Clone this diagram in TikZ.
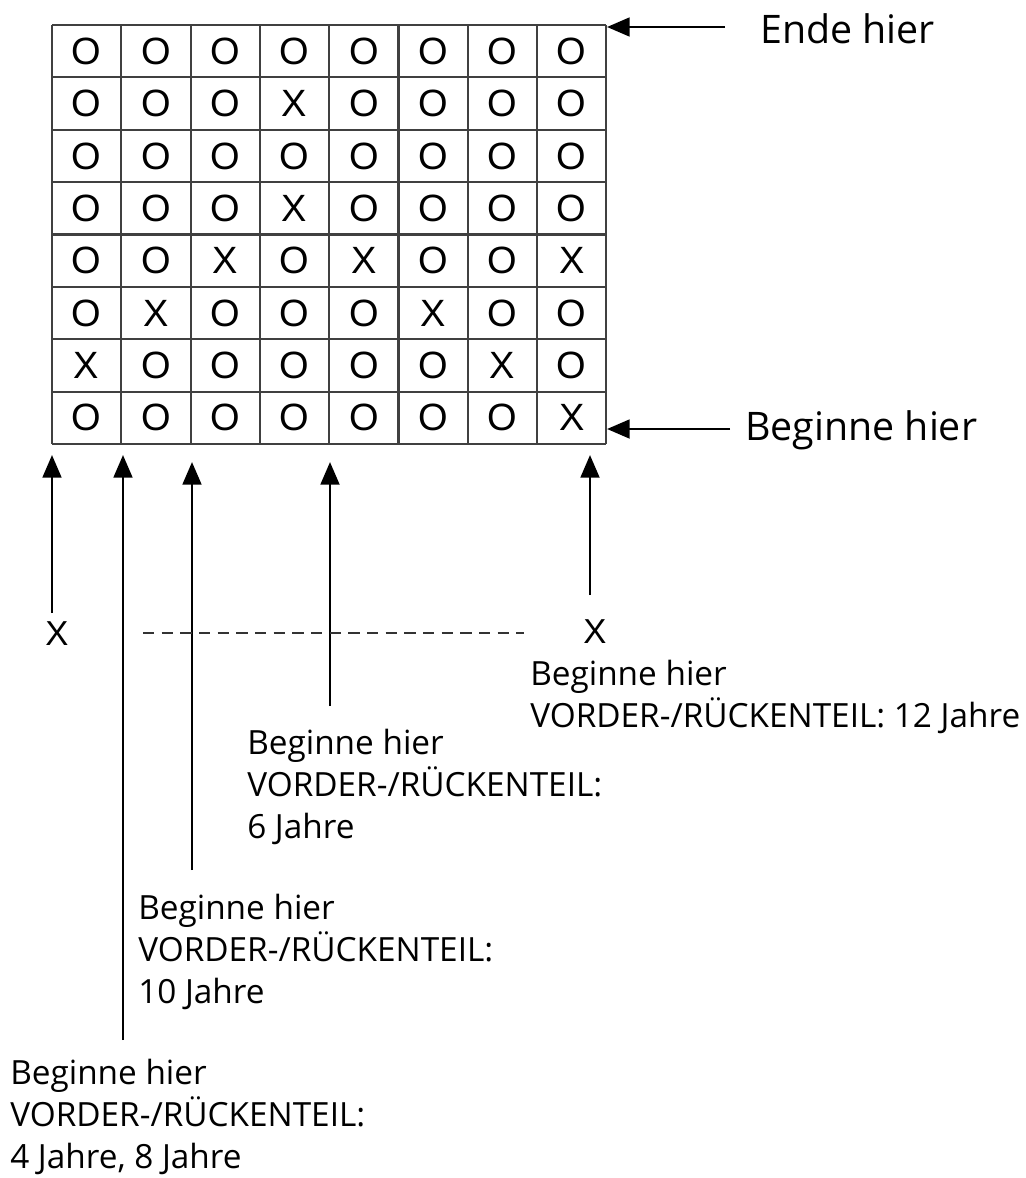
\documentclass[tikz,border=0pt]{standalone}
\usepackage{fontspec}
\setmainfont{Open Sans}
\newfontfamily\gitterfont{Liberation Sans}
\usetikzlibrary{arrows.meta}
\tikzset{gitter/.style={draw=black!75,line width=1.6pt}}
\tikzset{zelle/.style={inner sep=0pt,font=\gitterfont\fontsize{28.5}{28.5}\selectfont}}
\tikzset{pfeil/.style={draw,line width=2.2pt,-{Triangle[length=17pt,width=14pt]}}}
\tikzset{hinweis/.style={anchor=base west,inner sep=0pt,align=left,font=\fontsize{25}{31.2}\selectfont}}
\tikzset{seite/.style={anchor=base west,inner sep=0pt,font=\fontsize{29.5}{29.5}\selectfont}}
\tikzset{kreuz/.style={inner sep=0pt,font=\gitterfont\fontsize{26}{26}\selectfont}}

\begin{document}
\begin{tikzpicture}[x=0.75pt,y=-0.75pt]
    \useasboundingbox (0,0) rectangle (1025,1178);

    % Gitter 8x8
    \foreach \i in {0,...,8} {
        \draw[gitter] ({52+69.3*\i},25) -- ({52+69.3*\i},444);
        \draw[gitter] (52,{25+52.375*\i}) -- (606.4,{25+52.375*\i});
    }
    \foreach \zeile [count=\r] in {{O,O,O,O,O,O,O,O},{O,O,O,X,O,O,O,O},{O,O,O,O,O,O,O,O},{O,O,O,X,O,O,O,O},
                                   {O,O,X,O,X,O,O,X},{O,X,O,O,O,X,O,O},{X,O,O,O,O,O,X,O},{O,O,O,O,O,O,O,X}}
        \foreach \z [count=\c] in \zeile
            \node[zelle] (z\r-\c) at ({52+69.3*(\c-0.5)},{25+52.375*(\r-0.5)}) {\z};

    % Beschriftung rechts
    \node[seite] (ende) at (760,43) {Ende hier};
    \node[seite] (beginn) at (745,440) {Beginne hier};
    \coordinate (ende0) at (725,27);
    \coordinate (ende1) at (607,27);
    \coordinate (beginn0) at (730,429);
    \coordinate (beginn1) at (607,429);
    \path[pfeil] (ende0) -- (ende1);
    \path[pfeil] (beginn0) -- (beginn1);

    % Beschriftung unten (Anker = Grundlinie der letzten Zeile)
    \node[kreuz] (xlinks) at (57,634) {X};
    \node[kreuz] (xrechts) at (595,632) {X};
    \node[hinweis] (j12) at (530,727) {Beginne hier\\VORDER-/RÜCKENTEIL: 12 Jahre};
    \node[hinweis] (j6) at (247,838) {Beginne hier\\VORDER-/RÜCKENTEIL:\\6 Jahre};
    \node[hinweis] (j10) at (138,1003) {Beginne hier\\VORDER-/RÜCKENTEIL:\\10 Jahre};
    \node[hinweis] (j4) at (10,1168) {Beginne hier\\VORDER-/RÜCKENTEIL:\\4 Jahre, 8 Jahre};

    \coordinate (s1) at (52,613);  \coordinate (e1) at (52,455);
    \coordinate (s2) at (123,1040); \coordinate (e2) at (123,455);
    \coordinate (s3) at (192,870);  \coordinate (e3) at (192,462);
    \coordinate (s4) at (330,706);  \coordinate (e4) at (330,462);
    \coordinate (s5) at (590,595);  \coordinate (e5) at (590,455);
    \foreach \n in {1,...,5}
        \path[pfeil] (s\n) -- (e\n);

    \coordinate (d0) at (143,633);
    \coordinate (d1) at (524,633);
    \draw[line width=2pt,dash pattern=on 8.5pt off 5.5pt,black!80] (d0) -- (d1);
\end{tikzpicture}
\end{document}
